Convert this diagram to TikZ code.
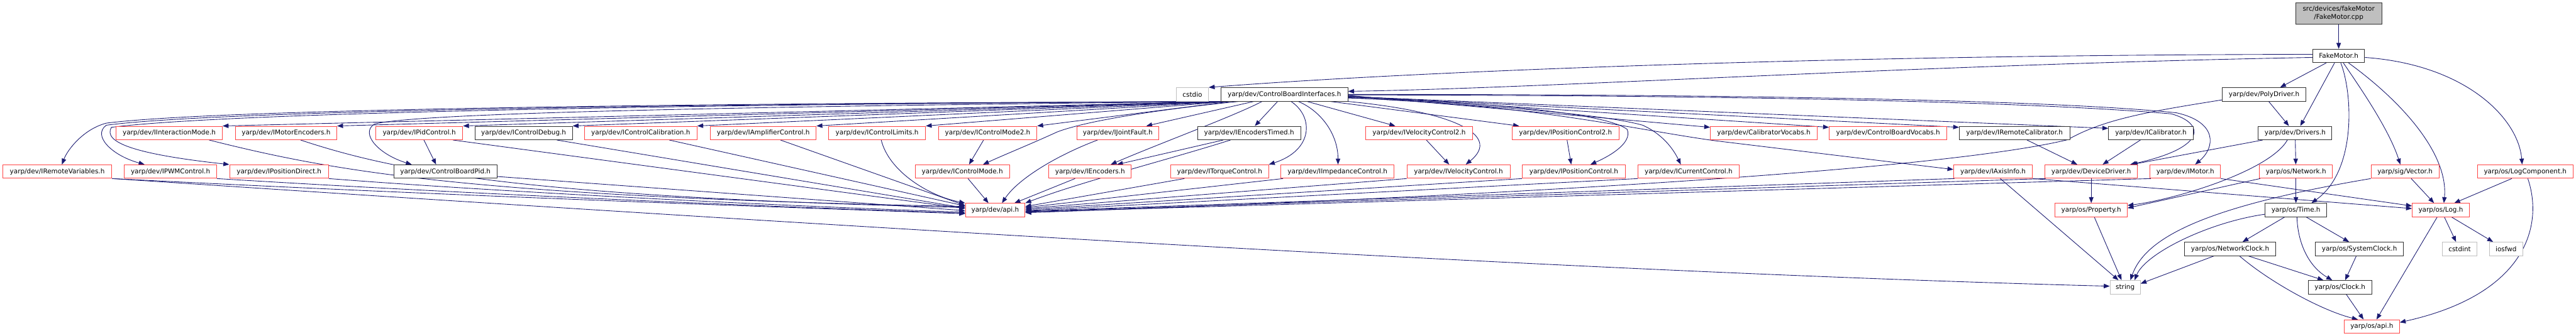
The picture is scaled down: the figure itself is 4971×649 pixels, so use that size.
\documentclass[tikz,border=0pt]{standalone}
\usepackage{fontspec}
\setmainfont{DejaVu Sans}
\usetikzlibrary{arrows.meta,calc,backgrounds}
\definecolor{edgec}{HTML}{191970}
\definecolor{redc}{HTML}{FF4444}
\definecolor{grayc}{HTML}{BFBFBF}
\definecolor{blkc}{HTML}{303030}
\tikzset{
  nb/.style={draw, line width=0.9pt, fill=white, font=\fontsize{9.5}{11.5}\selectfont,
    minimum height=19.5pt, inner xsep=1pt, inner ysep=0pt},
  wd/.style={minimum width=#1*0.75pt},
  kbox/.style={nb, draw=blkc},
  rbox/.style={nb, draw=redc},
  gbox/.style={nb, draw=grayc},
  dep/.style={draw=edgec, line width=0.8pt, -{Triangle[length=8.5pt,width=6.5pt]}}
}
\begin{document}
\begin{tikzpicture}[x=0.75pt,y=-0.75pt]
\useasboundingbox (0,0) rectangle (4971,649);
% rank 0-2
\node[kbox,wd=166,minimum height=30.5pt,align=center,fill=grayc] (cpp) at (4513,26) {src/devices/fakeMotor\\/FakeMotor.cpp};
\node[kbox,wd=100] (fmh) at (4513,108) {FakeMotor.h};
\node[gbox,wd=62] (cstdio) at (2301,182.5) {cstdio};
\node[kbox,wd=245] (cbi) at (2478.5,182.5) {yarp/dev/ControlBoardInterfaces.h};
\node[kbox,wd=162] (poly) at (4369,182.5) {yarp/dev/PolyDriver.h};
% rank 3
\node[rbox,wd=205] (iim) at (326.5,257) {yarp/dev/IInteractionMode.h};
\node[rbox,wd=196] (imenc) at (552,257) {yarp/dev/IMotorEncoders.h};
\node[rbox,wd=168] (ipid) at (809,257) {yarp/dev/IPidControl.h};
\node[kbox,wd=188] (icdbg) at (1010.5,257) {yarp/dev/IControlDebug.h};
\node[rbox,wd=217] (icc) at (1236.5,257) {yarp/dev/IControlCalibration.h};
\node[rbox,wd=204] (iamp) at (1473,257) {yarp/dev/IAmplifierControl.h};
\node[rbox,wd=187] (icl) at (1692.5,257) {yarp/dev/IControlLimits.h};
\node[rbox,wd=190] (icm2) at (1906,257) {yarp/dev/IControlMode2.h};
\node[rbox,wd=158] (ijf) at (2157,257) {yarp/dev/IJointFault.h};
\node[kbox,wd=199] (iet) at (2410.5,257) {yarp/dev/IEncodersTimed.h};
\node[rbox,wd=207] (ivc2) at (2738.5,257) {yarp/dev/IVelocityControl2.h};
\node[rbox,wd=206] (ipc2) at (3021,257) {yarp/dev/IPositionControl2.h};
\node[rbox,wd=206] (calv) at (3403.6,257) {yarp/dev/CalibratorVocabs.h};
\node[rbox,wd=227] (cbv) at (3643.5,257) {yarp/dev/ControlBoardVocabs.h};
\node[kbox,wd=213] (irc) at (3887.5,257) {yarp/dev/IRemoteCalibrator.h};
\node[kbox,wd=163] (ical) at (4150.5,257) {yarp/dev/ICalibrator.h};
\node[kbox,wd=142] (drv) at (4429,257) {yarp/dev/Drivers.h};
% rank 4
\node[rbox,wd=211] (irv) at (110.5,331.5) {yarp/dev/IRemoteVariables.h};
\node[rbox,wd=178] (ipwm) at (329,331.5) {yarp/dev/IPWMControl.h};
\node[rbox,wd=191] (ipd) at (538.5,331.5) {yarp/dev/IPositionDirect.h};
\node[kbox,wd=199] (cbpid) at (859.5,331.5) {yarp/dev/ControlBoardPid.h};
\node[rbox,wd=182] (icm) at (1857,331.5) {yarp/dev/IControlMode.h};
\node[rbox,wd=159] (ienc) at (2103.5,331.5) {yarp/dev/IEncoders.h};
\node[rbox,wd=189] (itq) at (2353.5,331.5) {yarp/dev/ITorqueControl.h};
\node[rbox,wd=219] (iimp) at (2581,331.5) {yarp/dev/IImpedanceControl.h};
\node[rbox,wd=199] (ivc) at (2814.5,331.5) {yarp/dev/IVelocityControl.h};
\node[rbox,wd=199] (ipc) at (3037,331.5) {yarp/dev/IPositionControl.h};
\node[rbox,wd=195] (icur) at (3258.5,331.5) {yarp/dev/ICurrentControl.h};
\node[rbox,wd=152] (iax) at (3846,331.5) {yarp/dev/IAxisInfo.h};
\node[rbox,wd=179] (dd) at (4035.5,331.5) {yarp/dev/DeviceDriver.h};
\node[rbox,wd=136] (imot) at (4217,331.5) {yarp/dev/IMotor.h};
\node[rbox,wd=141] (net) at (4430.5,331.5) {yarp/os/Network.h};
\node[rbox,wd=131] (vec) at (4641,331.5) {yarp/sig/Vector.h};
\node[rbox,wd=184] (logc) at (4873,331.5) {yarp/os/LogComponent.h};
% rank 5
\node[rbox,wd=115] (devapi) at (1920.5,406) {yarp/dev/api.h};
\node[rbox,wd=139] (prop) at (4035.5,406) {yarp/os/Property.h};
\node[kbox,wd=119] (time) at (4430.5,406) {yarp/os/Time.h};
\node[rbox,wd=110] (log) at (4710,406) {yarp/os/Log.h};
% rank 6
\node[kbox,wd=177] (nclk) at (4303.5,481) {yarp/os/NetworkClock.h};
\node[kbox,wd=170] (sclk) at (4553,481) {yarp/os/SystemClock.h};
\node[gbox,wd=67] (cstdint) at (4746.5,481) {cstdint};
\node[gbox,wd=64] (iosfwd) at (4836,481) {iosfwd};
% rank 7-8
\node[gbox,wd=58.5] (str) at (4101,555) {string};
\node[kbox,wd=123] (clk) at (4515.5,555) {yarp/os/Clock.h};
\node[rbox,wd=106.5] (osapi) at (4577,631) {yarp/os/api.h};

\begin{pgfonlayer}{background}
% FakeMotor
\draw[dep] (cpp) -- (fmh);
\draw[dep] ($(fmh.west)+(0,-3)$) .. controls (3500,106) and (2700,140) .. (cstdio.north east);
\draw[dep] ($(fmh.west)+(0,3)$) .. controls (3700,125) and (3000,170) .. ($(cbi.east)+(0,-6)$);
\draw[dep] ($(fmh.south)+(-24,0)$) -- ($(poly.north)+(31,0)$);
\draw[dep] ($(fmh.south)+(-8,0)$) -- ($(drv.north)+(10,0)$);
\draw[dep] ($(fmh.south)+(4,0)$) .. controls (4540,180) and (4548,330) .. ($(time.north)+(30,0)$);
\draw[dep] ($(fmh.south)+(9,0)$) .. controls (4555,170) and (4610,250) .. ($(vec.north)+(-9,0)$);
\draw[dep] ($(fmh.south)+(19,0)$) .. controls (4640,200) and (4725,300) .. ($(log.north)+(6,0)$);
\draw[dep] ($(fmh.east)+(0,3)$) .. controls (4760,125) and (4860,230) .. ($(logc.north)+(-6,0)$);
% PolyDriver
\draw[dep] ($(poly.south)+(9,0)$) -- ($(drv.north)+(-12,0)$);
\draw[dep] ($(poly.south west)+(0,-3)$) .. controls (4150,215) and (4060,230) .. (3990,270) .. controls (3700,340) and (2600,390) .. ($(devapi.east)+(0,5)$);
% Drivers / Network
\draw[dep] ($(drv.south west)+(9,0)$) -- ($(dd.north east)+(-12,0)$);
\draw[dep] (drv) -- (net);
\draw[dep] ($(drv.south)+(-15,0)$) .. controls (4380,330) and (4200,385) .. ($(prop.east)+(0,-9)$);
\draw[dep] ($(net.south west)+(2,0)$) -- ($(prop.east)+(0,-4)$);
\draw[dep] (net) -- (time);
% Time
\draw[dep] ($(time.south)+(-22,0)$) -- ($(nclk.north)+(24,0)$);
\draw[dep] ($(time.south)+(20,0)$) -- ($(sclk.north)+(-20,0)$);
\draw[dep] ($(time.south)+(2,0)$) .. controls (4434,470) and (4455,515) .. ($(clk.north)+(-15,0)$);
\draw[dep] ($(time.west)+(0,8)$) .. controls (4260,430) and (4140,490) .. ($(str.north)+(18,0)$);
% Clocks
\draw[dep] ($(nclk.south)+(-31,0)$) -- ($(str.east)+(0,-7)$);
\draw[dep] ($(nclk.south)+(35,0)$) -- ($(clk.north)+(-32,0)$);
\draw[dep] ($(nclk.south)+(18,0)$) .. controls (4380,545) and (4480,600) .. ($(osapi.north)+(-27,0)$);
\draw[dep] ($(sclk.south)+(-6,0)$) -- ($(clk.north)+(10,0)$);
\draw[dep] ($(clk.south)+(12,0)$) -- ($(osapi.north)+(-16,0)$);
% Vector / Log
\draw[dep] ($(vec.south)+(12,0)$) -- ($(log.north)+(-13,0)$);
\draw[dep] (vec.south west) .. controls (4250,400) and (4140,460) .. ($(str.north)+(10,0)$);
\draw[dep] ($(log.south)+(7,0)$) -- ($(cstdint.north)+(-7,0)$);
\draw[dep] ($(log.south)+(21,0)$) -- ($(iosfwd.north)+(-25,0)$);
\draw[dep] ($(log.south)+(-7,0)$) -- ($(osapi.north)+(9,0)$);
\draw[dep] ($(logc.south)+(-26,0)$) -- ($(log.north)+(26,0)$);
\draw[dep] ($(logc.south)+(5,0)$) .. controls (4910,440) and (4870,570) .. ($(osapi.east)+(0,-8)$);
% IMotor, IAxisInfo, DeviceDriver, Property
\draw[dep] (imot.south east) -- ($(log.west)+(0,-8)$);
\draw[dep] (iax.south east) -- ($(log.west)+(0,-3)$);
\draw[dep] ($(iax.south)+(14,0)$) -- ($(str.north)+(-13,0)$);
\draw[dep] (dd) -- (prop);
\draw[dep] ($(prop.south)+(6,0)$) -- ($(str.north)+(-7,0)$);
\draw[dep] ($(irc.south)+(24,0)$) -- ($(dd.north)+(-27,0)$);
\draw[dep] ($(ical.south west)+(62,0)$) -- ($(dd.north)+(22,0)$);
\draw[dep] (irv.south east) .. controls (1500,430) and (3000,525) .. ($(str.west)+(0,-2)$);
% small internal
\draw[dep] ($(ipid.south)+(9,0)$) -- ($(cbpid.north)+(-18,0)$);
\draw[dep] ($(icm2.south)+(-8,0)$) -- ($(icm.north)+(13,0)$);
\draw[dep] ($(iet.south)+(-50,0)$) -- ($(ienc.north)+(52,0)$);
\draw[dep] ($(ivc2.south)+(14,0)$) -- ($(ivc.north)+(-18,0)$);
\draw[dep] ($(ipc2.south)+(3,0)$) -- ($(ipc.north)+(-5,0)$);
% ControlBoardInterfaces -> left rank 3
\draw[dep] ($(cbi.south west)+(4,0)$) -- (iim.north east);
\draw[dep] ($(cbi.south west)+(6,0)$) -- (imenc.north east);
\draw[dep] ($(cbi.south west)+(8,0)$) -- (ipid.north east);
\draw[dep] ($(cbi.south west)+(10,0)$) -- (icdbg.north east);
\draw[dep] ($(cbi.south west)+(12,0)$) -- (icc.north east);
\draw[dep] ($(cbi.south west)+(14,0)$) -- (iamp.north east);
\draw[dep] ($(cbi.south west)+(16,0)$) -- (icl.north east);
\draw[dep] ($(cbi.south west)+(20,0)$) -- (icm2.north east);
\draw[dep] ($(cbi.south west)+(64,0)$) -- ($(ijf.north)+(55,0)$);
\draw[dep] ($(cbi.south west)+(110,0)$) -- ($(iet.north)+(11,0)$);
\draw[dep] ($(cbi.south west)+(167,0)$) -- ($(ivc2.north)+(-46,0)$);
\draw[dep] ($(cbi.south west)+(212,0)$) -- ($(ipc2.north west)+(14,0)$);
% ControlBoardInterfaces -> rank 4
\draw[dep] ($(cbi.south west)+(2,0)$) .. controls (1200,200) and (400,213) .. (205,238) .. controls (160,250) and (130,290) .. ($(irv.north)+(9,0)$);
\draw[dep] ($(cbi.south west)+(3,0)$) .. controls (1200,201) and (400,216) .. (205,242) .. controls (178,262) and (215,300) .. ($(ipwm.north)+(-50,0)$);
\draw[dep] ($(cbi.south west)+(4,0)$) .. controls (1200,202) and (420,220) .. (215,246) .. controls (198,275) and (260,298) .. (ipd.north west);
\draw[dep] ($(cbi.south west)+(6,0)$) .. controls (1500,205) and (800,217) .. (722,240) .. controls (695,258) and (730,298) .. ($(cbpid.north)+(-65,0)$);
\draw[dep] ($(cbi.south west)+(35,0)$) .. controls (2250,210) and (2100,232) .. (2040,255) .. controls (1990,278) and (1940,298) .. ($(icm.north)+(40,0)$);
\draw[dep] ($(cbi.south west)+(80,0)$) .. controls (2380,225) and (2230,280) .. ($(ienc.north)+(40,0)$);
\draw[dep] ($(cbi.south west)+(136,0)$) .. controls (2535,225) and (2535,290) .. (itq.north east);
\draw[dep] ($(cbi.south west)+(150,0)$) .. controls (2550,215) and (2582,260) .. ($(iimp.north)+(1,0)$);
\draw[dep] (cbi.south east) .. controls (2800,215) and (2900,260) .. ($(ivc.north)+(14,0)$);
\draw[dep] ($(cbi.east)+(0,5)$) .. controls (2900,200) and (3100,220) .. (3140,250) .. controls (3150,275) and (3110,300) .. ($(ipc.north)+(32,0)$);
\draw[dep] ($(cbi.east)+(0,6)$) .. controls (2900,205) and (3100,222) .. (3170,242) .. controls (3210,260) and (3230,290) .. ($(icur.north)+(-15,0)$);
\draw[dep] ($(cbi.east)+(0,7)$) .. controls (2950,200) and (3150,250) .. (3310,272) -- ($(iax.west)+(0,-4)$);
\draw[dep] ($(cbi.east)+(0,2)$) -- ($(calv.west)+(0,-11)$);
\draw[dep] ($(cbi.east)+(0,3)$) -- ($(cbv.west)+(0,-11)$);
\draw[dep] ($(cbi.east)+(0,4)$) -- ($(irc.west)+(0,-11)$);
\draw[dep] ($(cbi.east)+(0,4)$) -- ($(ical.west)+(0,-9)$);
\draw[dep] ($(cbi.east)+(0,1)$) .. controls (3300,184) and (3900,195) .. (4190,220) .. controls (4255,238) and (4260,285) .. ($(dd.north east)+(-15,0)$);
\draw[dep] ($(cbi.east)+(0,0)$) .. controls (3300,182) and (3950,192) .. (4200,218) .. controls (4280,236) and (4275,285) .. ($(imot.north)+(19,0)$);
% into yarp/dev/api.h from the left
\draw[dep] ($(iim.south)+(77,0)$) .. controls (640,330) and (900,380) .. ($(devapi.west)+(0,-7)$);
\draw[dep] ($(imenc.south)+(28,0)$) .. controls (760,330) and (1000,380) .. ($(devapi.west)+(0,-5)$);
\draw[dep] ($(ipid.south)+(65,0)$) -- ($(devapi.west)+(0,-3)$);
\draw[dep] ($(cbpid.south east)+(0,-4)$) -- ($(devapi.west)+(0,1)$);
\draw[dep] ($(icdbg.south)+(64,0)$) -- ($(devapi.west)+(0,-4)$);
\draw[dep] ($(icc.south)+(55,0)$) -- ($(devapi.west)+(0,-8)$);
\draw[dep] ($(iamp.south)+(33,0)$) -- ($(devapi.west)+(0,-9)$);
\draw[dep] (irv.south east) .. controls (900,380) and (1500,400) .. ($(devapi.west)+(0,7)$);
\draw[dep] (ipwm.south east) .. controls (900,375) and (1500,400) .. ($(devapi.west)+(0,6)$);
\draw[dep] (ipd.south east) .. controls (950,370) and (1500,398) .. ($(devapi.west)+(0,4)$);
% into yarp/dev/api.h from above
\draw[dep] ($(icl.south)+(8,0)$) .. controls (1715,330) and (1790,378) .. (devapi.north west);
\draw[dep] ($(icm.south)+(11,0)$) -- ($(devapi.north)+(-13,0)$);
\draw[dep] ($(ijf.south)+(-39,0)$) .. controls (2040,300) and (1965,345) .. ($(devapi.north)+(13,0)$);
\draw[dep] ($(ienc.south)+(-29,0)$) -- ($(devapi.north east)+(-21,0)$);
\draw[dep] ($(iet.south)+(-36,0)$) .. controls (2250,310) and (2090,350) .. (devapi.north east);
% into yarp/dev/api.h from the right
\draw[dep] ($(itq.south)+(-68,0)$) -- ($(devapi.east)+(0,-7)$);
\draw[dep] ($(iimp.south west)+(5,0)$) -- ($(devapi.east)+(0,-5)$);
\draw[dep] (ivc.south west) -- ($(devapi.east)+(0,-3)$);
\draw[dep] (ipc.south west) -- ($(devapi.east)+(0,-1)$);
\draw[dep] (icur.south west) -- ($(devapi.east)+(0,1)$);
\draw[dep] ($(iax.south west)+(2,0)$) -- ($(devapi.east)+(0,2)$);
\draw[dep] ($(dd.south west)+(2,0)$) -- ($(devapi.east)+(0,3)$);
\draw[dep] ($(imot.south west)+(2,0)$) -- ($(devapi.east)+(0,4)$);
\end{pgfonlayer}
\end{tikzpicture}
\end{document}
